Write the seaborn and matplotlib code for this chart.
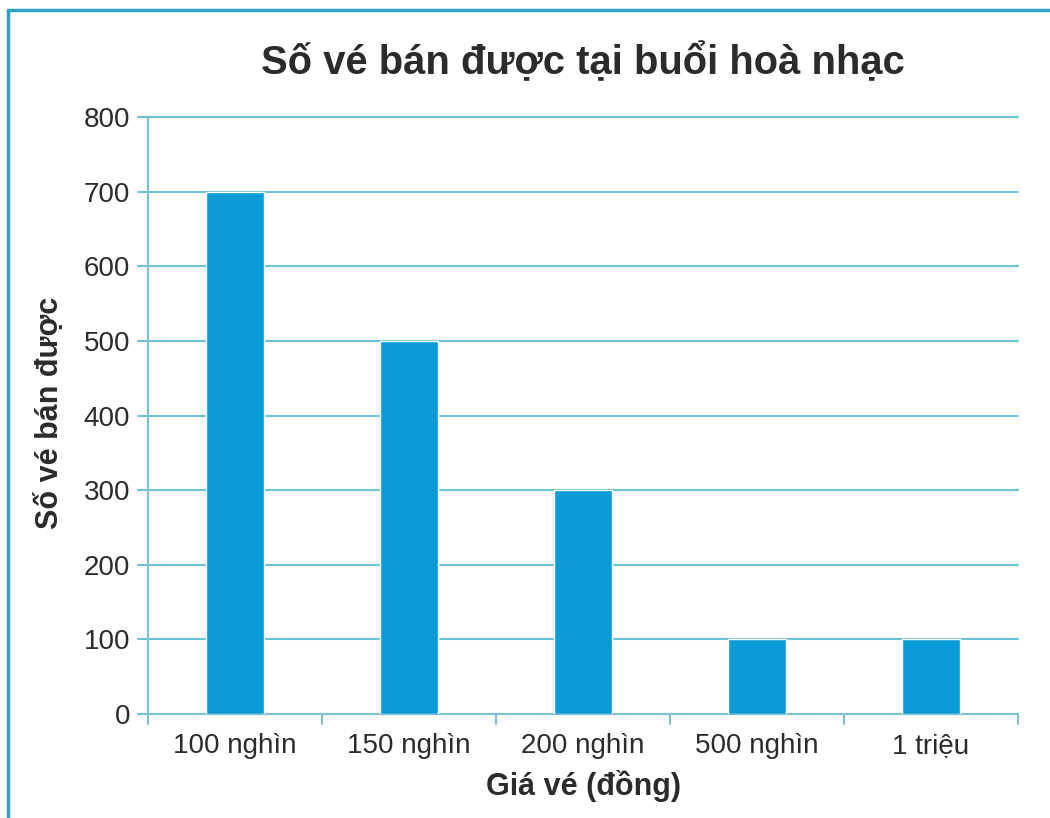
import matplotlib
matplotlib.use("Agg")
import matplotlib.pyplot as plt
import pandas as pd
import seaborn as sns
from matplotlib.lines import Line2D

# data
ticket_prices = ["100 nghìn", "150 nghìn", "200 nghìn", "500 nghìn", "1 triệu"]
tickets_sold = [700, 500, 300, 100, 100]
y_ticks = [0, 100, 200, 300, 400, 500, 600, 700, 800]

BAR_COLOR = "#0a9bd7"
GRID_COLOR = "#6cc3d5"
SPINE_COLOR = "#7fbfd0"
FRAME_COLOR = "#2fa3c6"
TEXT_COLOR = "#2b2b2b"

sns.set_theme(style="white")
plt.rcParams["font.family"] = ["Liberation Sans", "DejaVu Sans"]

df = pd.DataFrame({"price": ticket_prices, "sold": tickets_sold})

W, H = 1050, 818
fig = plt.figure(figsize=(W / 100, H / 100), dpi=100)
fig.patch.set_facecolor("white")
ax = fig.add_axes([148 / W, 1 - 714 / H, 870 / W, 597 / H])

sns.barplot(data=df, x="price", y="sold", color=BAR_COLOR, saturation=1,
            width=0.33, ax=ax, zorder=3)

ax.set_ylim(0, 800)
ax.set_xlim(-0.5, len(ticket_prices) - 0.5)
ax.set_yticks(y_ticks)
ax.yaxis.grid(True, color=GRID_COLOR, linewidth=1.5, zorder=0)
ax.set_axisbelow(True)
for gl in ax.get_ygridlines():
    gl.set_clip_on(False)

# gridlines stick out a bit past the left spine
for y in y_ticks:
    ax.plot([-0.555, -0.5], [y, y], color=GRID_COLOR, lw=1.5, clip_on=False)

for side in ["top", "right"]:
    ax.spines[side].set_visible(False)
for side in ["left", "bottom"]:
    ax.spines[side].set_color(SPINE_COLOR)
    ax.spines[side].set_linewidth(1.5)

ax.tick_params(axis="y", length=0, pad=13, labelsize=20, labelcolor=TEXT_COLOR)
ax.tick_params(axis="x", length=0, pad=14, labelsize=20, labelcolor=TEXT_COLOR)

# ticks between categories
for i in range(len(ticket_prices) + 1):
    ax.plot([i - 0.5, i - 0.5], [0, -14], color=SPINE_COLOR, lw=1.5, clip_on=False)

ax.set_xlabel("Giá vé (đồng)", fontsize=22, fontweight="bold", color=TEXT_COLOR, va="center")
ax.xaxis.set_label_coords(0.5, -(786 - 714) / 597)
ax.set_ylabel("Số vé bán được", fontsize=22, fontweight="bold", color=TEXT_COLOR, va="center")
ax.yaxis.set_label_coords((50 - 148) / 870, 0.505)

fig.text(583 / W, 1 - 62 / H, "Số vé bán được tại buổi hoà nhạc",
         ha="center", va="center", fontsize=28.8, fontweight="bold", color=TEXT_COLOR)

# frame: top and left edges only
fig.lines.append(Line2D([8 / W, 1], [1 - 10 / H, 1 - 10 / H], transform=fig.transFigure,
                        color=FRAME_COLOR, lw=2.5))
fig.lines.append(Line2D([8 / W, 8 / W], [0, 1 - 10 / H], transform=fig.transFigure,
                        color=FRAME_COLOR, lw=2.5))

fig.savefig("out.png", dpi=100)
